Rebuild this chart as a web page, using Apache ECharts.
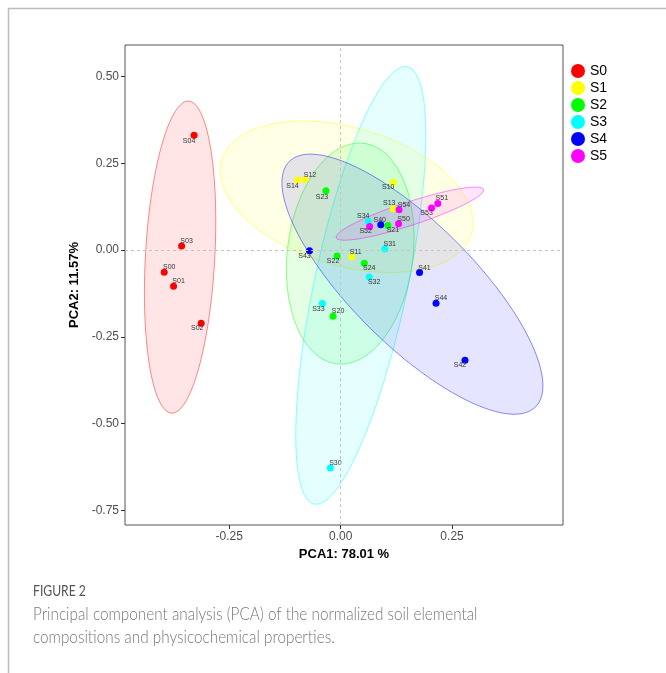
<!DOCTYPE html>
<html>
<head>
<meta charset="utf-8">
<script src="https://cdn.jsdelivr.net/npm/echarts@6/dist/echarts.min.js"></script>
<style>
html,body{margin:0;padding:0;background:#fff;}
#main{width:666px;height:673px;}
</style>
</head>
<body>
<div id="main"></div>
<script>
// groups and colours
var groups = ['S0', 'S1', 'S2', 'S3', 'S4', 'S5'];
var colors = ['#ff0000', '#ffff00', '#00ff00', '#00ffff', '#0000ff', '#ff00ff'];

// sample names and PCA scores per group
var s0Names = ['S00', 'S01', 'S02', 'S03', 'S04'];
var s0PC1 = [-0.396, -0.375, -0.313, -0.357, -0.329];
var s0PC2 = [-0.064, -0.104, -0.211, 0.012, 0.331];

var s1Names = ['S10', 'S11', 'S12', 'S13', 'S14'];
var s1PC1 = [0.118, 0.025, -0.080, 0.118, -0.097];
var s1PC2 = [0.195, -0.019, 0.203, 0.119, 0.202];

var s2Names = ['S20', 'S21', 'S22', 'S23', 'S24'];
var s2PC1 = [-0.017, 0.106, -0.008, -0.033, 0.053];
var s2PC2 = [-0.191, 0.071, -0.017, 0.171, -0.038];

var s3Names = ['S30', 'S31', 'S32', 'S33', 'S34'];
var s3PC1 = [-0.023, 0.099, 0.064, -0.041, 0.062];
var s3PC2 = [-0.628, 0.003, -0.078, -0.154, 0.083];

var s4Names = ['S40', 'S41', 'S42', 'S43', 'S44'];
var s4PC1 = [0.090, 0.177, 0.279, -0.070, 0.214];
var s4PC2 = [0.073, -0.065, -0.318, -0.002, -0.153];

var s5Names = ['S50', 'S51', 'S52', 'S53', 'S54'];
var s5PC1 = [0.130, 0.218, 0.065, 0.204, 0.131];
var s5PC2 = [0.076, 0.134, 0.068, 0.121, 0.116];

// axis ticks and ranges
var xTicks = [-0.25, 0, 0.25];
var yTicks = [-0.75, -0.5, -0.25, 0, 0.25, 0.5];
var xMin = -0.484, xMax = 0.499;
var yMin = -0.7925, yMax = 0.591;
var ellipseLevel = 0.9;

var allNames = [s0Names, s1Names, s2Names, s3Names, s4Names, s5Names];
var allPC1 = [s0PC1, s1PC1, s2PC1, s3PC1, s4PC1, s5PC1];
var allPC2 = [s0PC2, s1PC2, s2PC2, s3PC2, s4PC2, s5PC2];

// label placement (px offset from the point), style only
var labelOffset = {
    S00: [5, -5], S01: [5, -5], S02: [-4, 5], S03: [5, -5], S04: [-5, 6],
    S10: [-5, 5], S11: [4, -5], S12: [5, -5], S13: [-4, -6], S14: [-5, 6],
    S20: [5, -5], S21: [5, 5], S22: [-4, 5], S23: [-4, 6], S24: [5, 5],
    S30: [5, -5], S31: [5, -5], S32: [5, 5], S33: [-4, 6], S34: [-5, -5],
    S40: [-1, -5], S41: [5, -5], S42: [-5, 5], S43: [-5, 5], S44: [5, -5],
    S50: [5, -5], S51: [4, -5], S52: [-4, 5], S53: [-5, 5], S54: [5, -5]
};

function rgba(hex, a) {
    var r = parseInt(hex.substr(1, 2), 16), g = parseInt(hex.substr(3, 2), 16), b = parseInt(hex.substr(5, 2), 16);
    return 'rgba(' + r + ',' + g + ',' + b + ',' + a + ')';
}

// robust t covariance, same steps as MASS::cov.trob (nu=5)
function covTrob(xs, ys) {
    var n = xs.length, nu = 5, p = 2, i;
    var loc = [0, 0];
    for (i = 0; i < n; i++) { loc[0] += xs[i] / n; loc[1] += ys[i] / n; }
    var w = [];
    for (i = 0; i < n; i++) w.push(1);
    var X;
    for (var iter = 0; iter < 25; iter++) {
        var w0 = w.slice();
        X = [];
        for (i = 0; i < n; i++) X.push([xs[i] - loc[0], ys[i] - loc[1]]);
        var sw = 0;
        for (i = 0; i < n; i++) sw += w[i];
        var a = 0, b = 0, d = 0;
        for (i = 0; i < n; i++) {
            a += w[i] / sw * X[i][0] * X[i][0];
            b += w[i] / sw * X[i][0] * X[i][1];
            d += w[i] / sw * X[i][1] * X[i][1];
        }
        var det = a * d - b * b;
        var ia = d / det, ib = -b / det, id = a / det;
        for (i = 0; i < n; i++) {
            var q = X[i][0] * X[i][0] * ia + 2 * X[i][0] * X[i][1] * ib + X[i][1] * X[i][1] * id;
            w[i] = (nu + p) / (nu + q);
        }
        var sw2 = 0, lx = 0, ly = 0;
        for (i = 0; i < n; i++) { sw2 += w[i]; lx += w[i] * xs[i]; ly += w[i] * ys[i]; }
        loc = [lx / sw2, ly / sw2];
        var done = true;
        for (i = 0; i < n; i++) if (Math.abs(w[i] - w0[i]) >= 0.01) done = false;
        if (done) break;
    }
    var c11 = 0, c12 = 0, c22 = 0;
    for (i = 0; i < n; i++) {
        c11 += w[i] * X[i][0] * X[i][0] / n;
        c12 += w[i] * X[i][0] * X[i][1] / n;
        c22 += w[i] * X[i][1] * X[i][1] / n;
    }
    return {center: loc, cov: [c11, c12, c22]};
}

// confidence ellipse as in ggplot2 stat_ellipse(type = "t")
function ellipse(xs, ys, level) {
    var v = covTrob(xs, ys);
    var dfd = xs.length - 1;
    var fq = dfd / 2 * (Math.pow(1 - level, -2 / dfd) - 1);
    var radius = Math.sqrt(2 * fq);
    var r11 = Math.sqrt(v.cov[0]);
    var r12 = v.cov[1] / r11;
    var r22 = Math.sqrt(v.cov[2] - r12 * r12);
    var pts = [];
    for (var k = 0; k <= 100; k++) {
        var t = k * 2 * Math.PI / 100;
        var c = Math.cos(t), s = Math.sin(t);
        pts.push([v.center[0] + radius * c * r11, v.center[1] + radius * (c * r12 + s * r22)]);
    }
    return pts;
}

var series = [];
// ellipses first
groups.forEach(function (g, gi) {
    var ell = ellipse(allPC1[gi], allPC2[gi], ellipseLevel);
    series.push({
        type: 'custom',
        name: g + ' ellipse',
        silent: true,
        z: 1,
        data: [[ell[0][0], ell[0][1]]],
        renderItem: function (params, api) {
            var pts = ell.map(function (p) { return api.coord(p); });
            return {
                type: 'polygon',
                shape: {points: pts},
                style: {fill: rgba(colors[gi], 0.1), stroke: rgba(colors[gi], 0.45), lineWidth: 1}
            };
        }
    });
});

// zero reference lines
series.push({
    type: 'scatter',
    name: 'ref',
    data: [],
    silent: true,
    z: 0,
    markLine: {
        silent: true,
        symbol: 'none',
        label: {show: false},
        lineStyle: {color: '#c4c4c4', type: [3, 3], width: 1},
        data: [{xAxis: 0}, {yAxis: 0}]
    }
});

// points
groups.forEach(function (g, gi) {
    var pts = [];
    for (var i = 0; i < allNames[gi].length; i++) {
        var nm = allNames[gi][i];
        pts.push({
            name: nm,
            value: [allPC1[gi][i], allPC2[gi][i]],
            label: {offset: labelOffset[nm]}
        });
    }
    series.push({
        type: 'scatter',
        name: g,
        z: 3,
        symbolSize: 7,
        itemStyle: {color: colors[gi], opacity: 1},
        label: {
            show: true,
            position: 'inside',
            formatter: '{b}',
            fontSize: 7,
            color: '#333',
            fontFamily: 'Liberation Sans'
        },
        data: pts
    });
});

var option = {
    backgroundColor: '#fff',
    animation: false,
    grid: {
        left: 125, right: 103, top: 45, bottom: 148,
        show: true, borderColor: '#555', borderWidth: 1
    },
    legend: {
        data: groups,
        orient: 'vertical',
        left: 566, top: 59,
        icon: 'circle',
        itemWidth: 14, itemHeight: 14, itemGap: 3,
        textStyle: {fontSize: 14, color: '#000', fontFamily: 'Liberation Sans'}
    },
    xAxis: {
        type: 'value',
        min: xMin, max: xMax,
        name: 'PCA1: 78.01 %',
        nameLocation: 'middle',
        nameGap: 22,
        nameTextStyle: {fontSize: 13, fontWeight: 'bold', color: '#000', fontFamily: 'Liberation Sans'},
        axisLine: {show: false, onZero: false},
        splitLine: {show: false},
        axisTick: {show: true, length: 4, customValues: xTicks, lineStyle: {color: '#333'}},
        axisLabel: {
            customValues: xTicks, fontSize: 12, color: '#4d4d4d', margin: 6, fontFamily: 'Liberation Sans',
            formatter: function (v) { return v.toFixed(2); }
        }
    },
    yAxis: {
        type: 'value',
        min: yMin, max: yMax,
        name: 'PCA2: 11.57%',
        nameLocation: 'middle',
        nameRotate: 90,
        nameGap: 35,
        nameTextStyle: {fontSize: 13, fontWeight: 'bold', color: '#000', fontFamily: 'Liberation Sans'},
        axisLine: {show: false, onZero: false},
        splitLine: {show: false},
        axisTick: {show: true, length: 4, customValues: yTicks, lineStyle: {color: '#333'}},
        axisLabel: {
            customValues: yTicks, fontSize: 12, color: '#4d4d4d', margin: 6, fontFamily: 'Liberation Sans',
            formatter: function (v) { return v.toFixed(2); }
        }
    },
    graphic: [
        {type: 'line', shape: {x1: 8, y1: 8.5, x2: 666, y2: 8.5}, style: {stroke: '#bdbdbd', lineWidth: 1.5}},
        {type: 'line', shape: {x1: 8.5, y1: 8, x2: 8.5, y2: 673}, style: {stroke: '#bdbdbd', lineWidth: 1.5}},
        {type: 'text', x: 33, y: 583, scaleX: 0.76, style: {text: 'FIGURE 2', fontSize: 16, fill: '#555', fontFamily: 'Lato'}},
        {type: 'text', x: 33, y: 603, scaleX: 0.85, style: {
            text: 'Principal component analysis (PCA) of the normalized soil elemental\ncompositions and physicochemical properties.',
            fontSize: 18, lineHeight: 23, fill: '#777', fontFamily: 'Lato', fontWeight: 300}}
    ],
    series: series
};

var myChart = echarts.init(document.getElementById('main'));
myChart.setOption(option);
</script>
</body>
</html>
